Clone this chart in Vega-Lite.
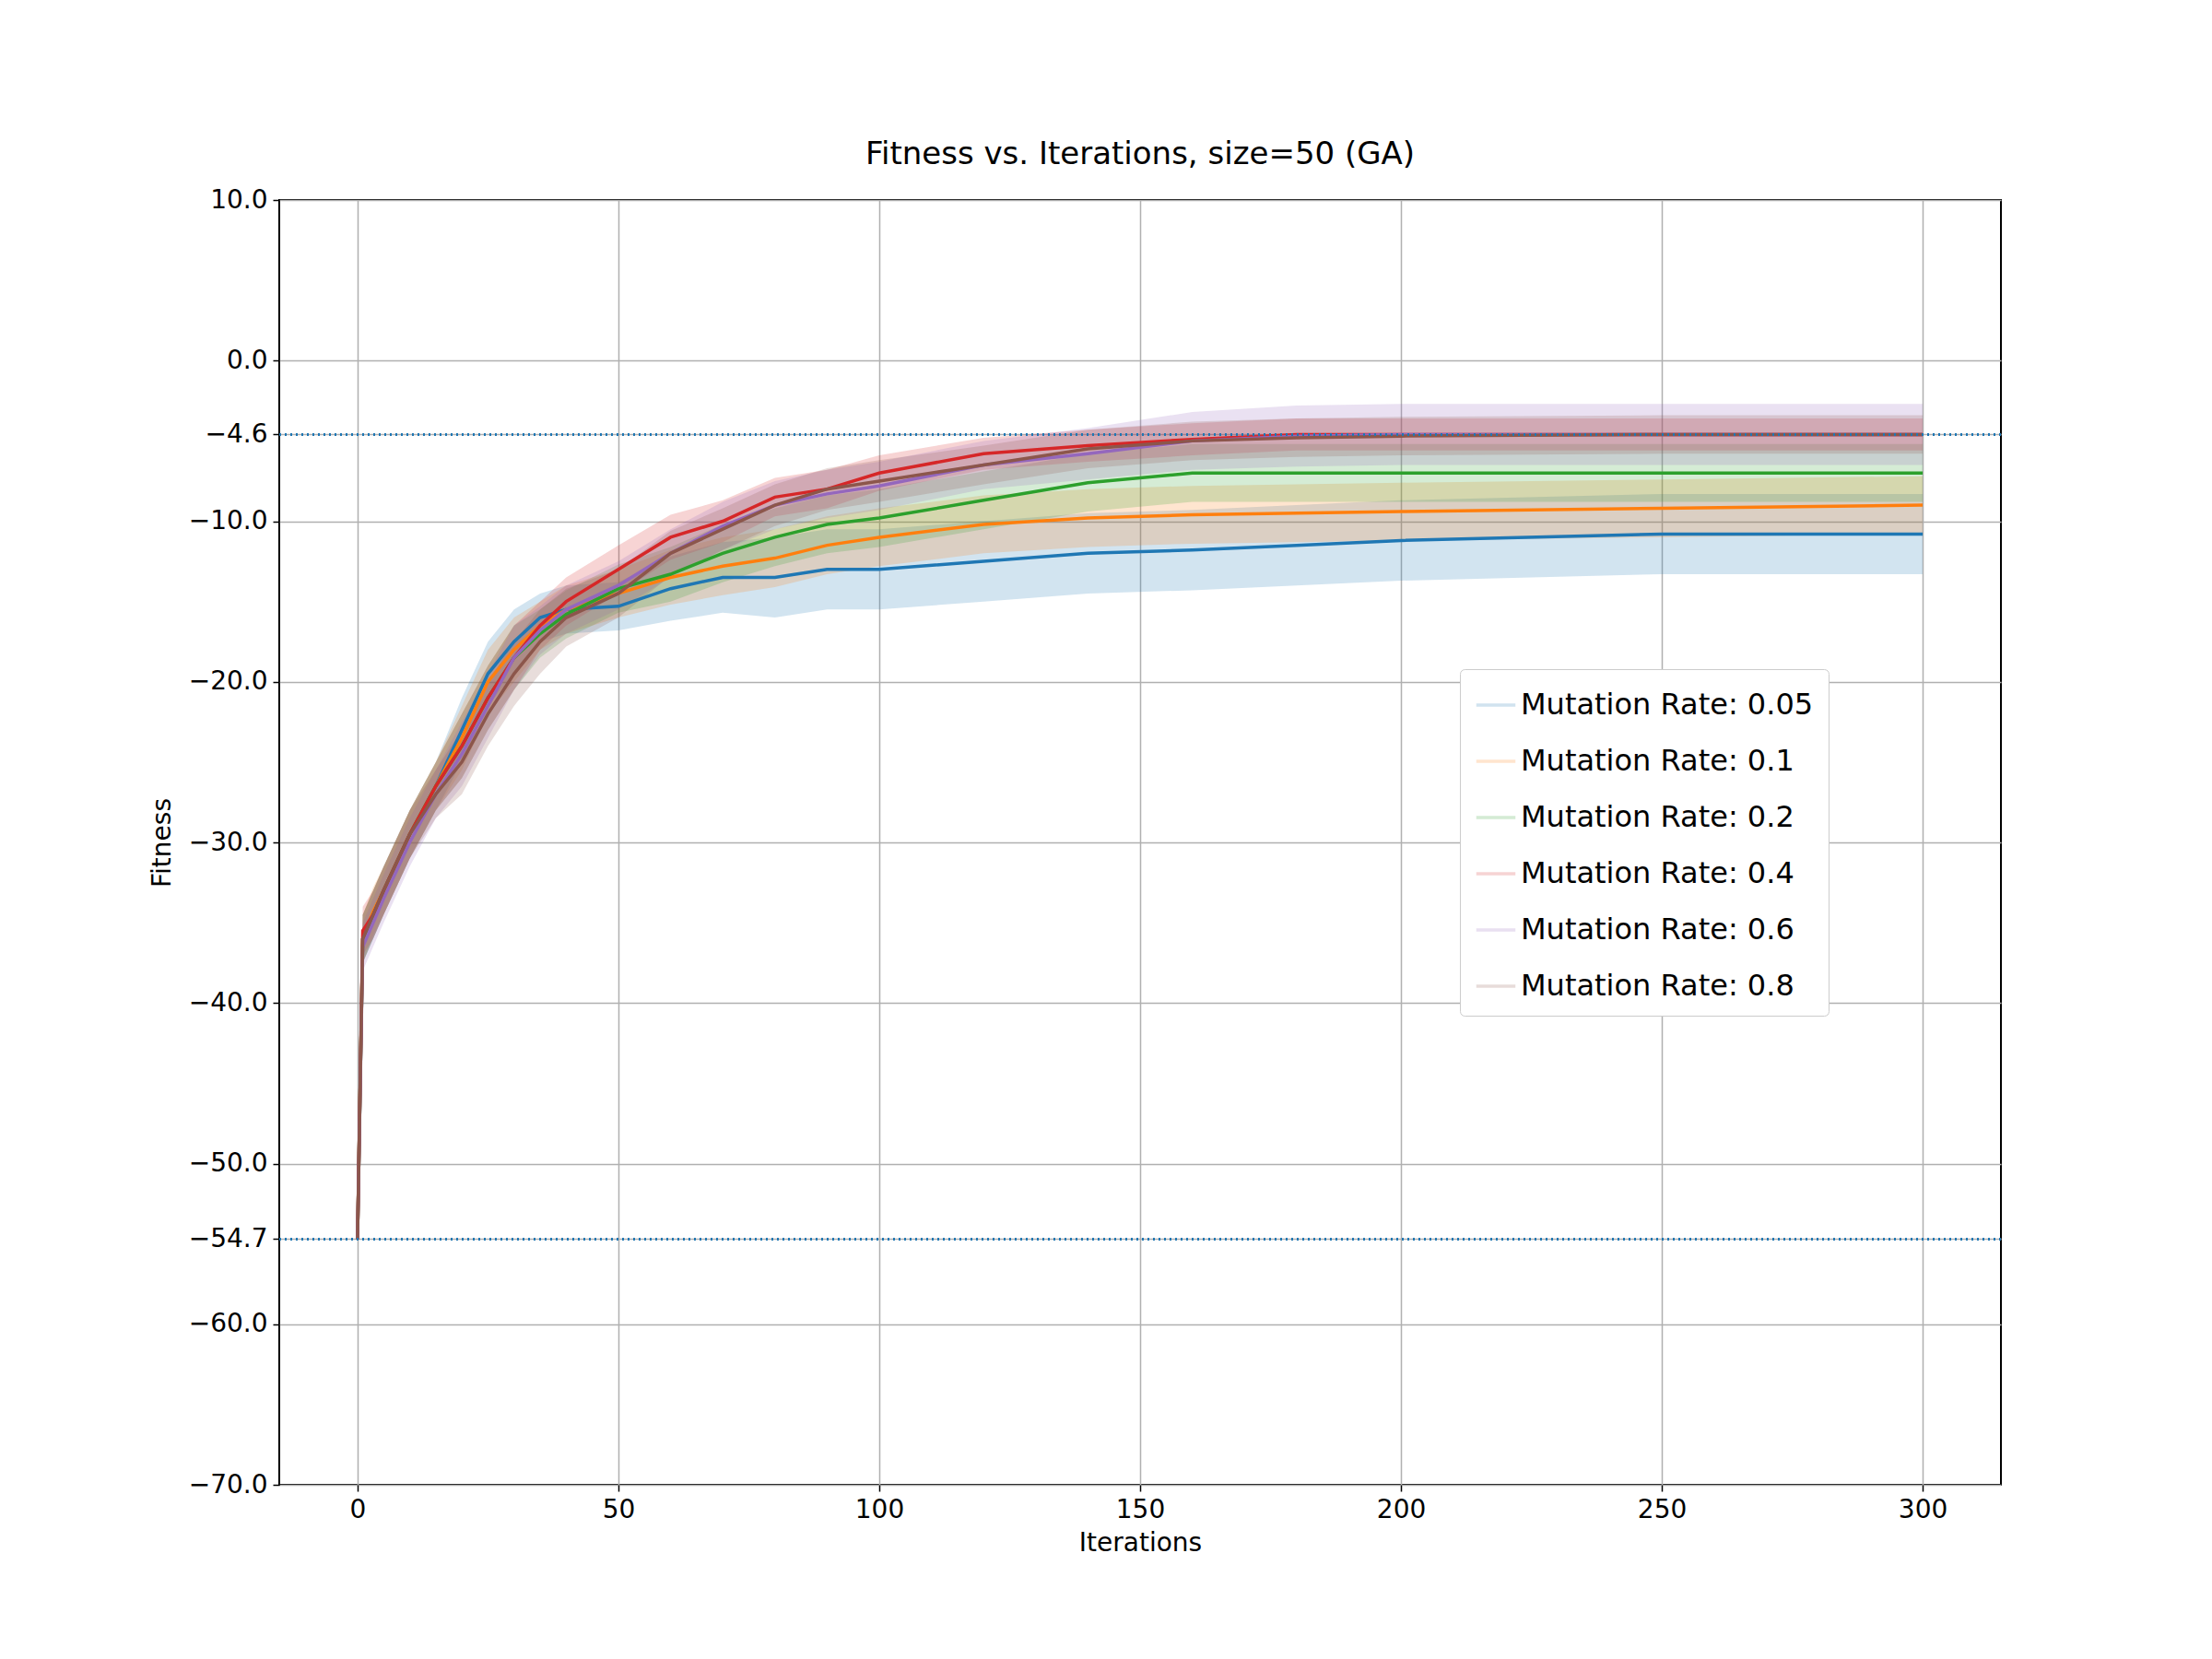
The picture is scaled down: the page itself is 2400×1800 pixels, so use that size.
{
  "$schema": "https://vega.github.io/schema/vega-lite/v6.json",
  "width": 1868,
  "height": 1394,
  "autosize": {"type": "none"},
  "padding": {"left": 303, "top": 217, "right": 229, "bottom": 189},
  "background": "white",
  "title": {"text": "Fitness vs. Iterations, size=50 (GA)", "font": "DejaVu Sans", "fontSize": 34, "fontWeight": "normal", "offset": 18},
  "config": {"font": "DejaVu Sans", "view": {"stroke": "black", "strokeWidth": 2}},
  "datasets": {
    "runs": [
      {"r":"Mutation Rate: 0.05","i":0,"m":-54.7,"lo":-54.7,"hi":-54.7},
      {"r":"Mutation Rate: 0.05","i":1,"m":-36,"lo":-37.5,"hi":-34.5},
      {"r":"Mutation Rate: 0.05","i":3,"m":-34.5,"lo":-36,"hi":-33},
      {"r":"Mutation Rate: 0.05","i":5,"m":-33,"lo":-34.5,"hi":-31.5},
      {"r":"Mutation Rate: 0.05","i":10,"m":-29.5,"lo":-31,"hi":-28},
      {"r":"Mutation Rate: 0.05","i":15,"m":-26.5,"lo":-28,"hi":-25},
      {"r":"Mutation Rate: 0.05","i":20,"m":-23,"lo":-25,"hi":-21},
      {"r":"Mutation Rate: 0.05","i":25,"m":-19.5,"lo":-21.5,"hi":-17.5},
      {"r":"Mutation Rate: 0.05","i":30,"m":-17.5,"lo":-19.5,"hi":-15.5},
      {"r":"Mutation Rate: 0.05","i":35,"m":-16,"lo":-17.5,"hi":-14.5},
      {"r":"Mutation Rate: 0.05","i":40,"m":-15.5,"lo":-17,"hi":-14},
      {"r":"Mutation Rate: 0.05","i":50,"m":-15.3,"lo":-16.8,"hi":-13.8},
      {"r":"Mutation Rate: 0.05","i":60,"m":-14.2,"lo":-16.2,"hi":-12.2},
      {"r":"Mutation Rate: 0.05","i":70,"m":-13.5,"lo":-15.7,"hi":-11.3},
      {"r":"Mutation Rate: 0.05","i":80,"m":-13.5,"lo":-16,"hi":-11},
      {"r":"Mutation Rate: 0.05","i":90,"m":-13,"lo":-15.5,"hi":-10.5},
      {"r":"Mutation Rate: 0.05","i":100,"m":-13,"lo":-15.5,"hi":-10.5},
      {"r":"Mutation Rate: 0.05","i":120,"m":-12.5,"lo":-15,"hi":-10},
      {"r":"Mutation Rate: 0.05","i":140,"m":-12,"lo":-14.5,"hi":-9.5},
      {"r":"Mutation Rate: 0.05","i":160,"m":-11.8,"lo":-14.3,"hi":-9.3},
      {"r":"Mutation Rate: 0.05","i":180,"m":-11.5,"lo":-14,"hi":-9},
      {"r":"Mutation Rate: 0.05","i":200,"m":-11.2,"lo":-13.7,"hi":-8.7},
      {"r":"Mutation Rate: 0.05","i":250,"m":-10.8,"lo":-13.3,"hi":-8.3},
      {"r":"Mutation Rate: 0.05","i":300,"m":-10.8,"lo":-13.3,"hi":-8.3},

      {"r":"Mutation Rate: 0.1","i":0,"m":-54.7,"lo":-54.7,"hi":-54.7},
      {"r":"Mutation Rate: 0.1","i":1,"m":-36,"lo":-37.5,"hi":-34.5},
      {"r":"Mutation Rate: 0.1","i":3,"m":-34.3,"lo":-35.8,"hi":-32.8},
      {"r":"Mutation Rate: 0.1","i":5,"m":-33,"lo":-34.5,"hi":-31.5},
      {"r":"Mutation Rate: 0.1","i":10,"m":-29.5,"lo":-31,"hi":-28},
      {"r":"Mutation Rate: 0.1","i":15,"m":-26.5,"lo":-28,"hi":-25},
      {"r":"Mutation Rate: 0.1","i":20,"m":-23.5,"lo":-25.5,"hi":-21.5},
      {"r":"Mutation Rate: 0.1","i":25,"m":-20,"lo":-22,"hi":-18},
      {"r":"Mutation Rate: 0.1","i":30,"m":-18,"lo":-20,"hi":-16},
      {"r":"Mutation Rate: 0.1","i":35,"m":-16.5,"lo":-18,"hi":-15},
      {"r":"Mutation Rate: 0.1","i":40,"m":-15.5,"lo":-17,"hi":-14},
      {"r":"Mutation Rate: 0.1","i":50,"m":-14.5,"lo":-16,"hi":-13},
      {"r":"Mutation Rate: 0.1","i":60,"m":-13.5,"lo":-15.2,"hi":-11.8},
      {"r":"Mutation Rate: 0.1","i":70,"m":-12.8,"lo":-14.6,"hi":-11},
      {"r":"Mutation Rate: 0.1","i":80,"m":-12.3,"lo":-14.1,"hi":-10.5},
      {"r":"Mutation Rate: 0.1","i":90,"m":-11.5,"lo":-13.3,"hi":-9.7},
      {"r":"Mutation Rate: 0.1","i":100,"m":-11,"lo":-12.8,"hi":-9.2},
      {"r":"Mutation Rate: 0.1","i":120,"m":-10.2,"lo":-12,"hi":-8.4},
      {"r":"Mutation Rate: 0.1","i":140,"m":-9.8,"lo":-11.6,"hi":-8},
      {"r":"Mutation Rate: 0.1","i":160,"m":-9.6,"lo":-11.4,"hi":-7.8},
      {"r":"Mutation Rate: 0.1","i":180,"m":-9.5,"lo":-11.3,"hi":-7.7},
      {"r":"Mutation Rate: 0.1","i":200,"m":-9.4,"lo":-11.2,"hi":-7.6},
      {"r":"Mutation Rate: 0.1","i":250,"m":-9.2,"lo":-11,"hi":-7.4},
      {"r":"Mutation Rate: 0.1","i":300,"m":-9,"lo":-10.8,"hi":-7.2},

      {"r":"Mutation Rate: 0.2","i":0,"m":-54.7,"lo":-54.7,"hi":-54.7},
      {"r":"Mutation Rate: 0.2","i":1,"m":-36,"lo":-37.5,"hi":-34.5},
      {"r":"Mutation Rate: 0.2","i":3,"m":-34.5,"lo":-36,"hi":-33},
      {"r":"Mutation Rate: 0.2","i":5,"m":-33,"lo":-34.5,"hi":-31.5},
      {"r":"Mutation Rate: 0.2","i":10,"m":-29.5,"lo":-31,"hi":-28},
      {"r":"Mutation Rate: 0.2","i":15,"m":-26.5,"lo":-28,"hi":-25},
      {"r":"Mutation Rate: 0.2","i":20,"m":-24,"lo":-26,"hi":-22},
      {"r":"Mutation Rate: 0.2","i":25,"m":-21,"lo":-23,"hi":-19},
      {"r":"Mutation Rate: 0.2","i":30,"m":-18.5,"lo":-20.5,"hi":-16.5},
      {"r":"Mutation Rate: 0.2","i":35,"m":-17,"lo":-18.5,"hi":-15.5},
      {"r":"Mutation Rate: 0.2","i":40,"m":-15.8,"lo":-17.3,"hi":-14.3},
      {"r":"Mutation Rate: 0.2","i":50,"m":-14.2,"lo":-15.7,"hi":-12.7},
      {"r":"Mutation Rate: 0.2","i":60,"m":-13.3,"lo":-15,"hi":-11.6},
      {"r":"Mutation Rate: 0.2","i":70,"m":-12,"lo":-13.8,"hi":-10.2},
      {"r":"Mutation Rate: 0.2","i":80,"m":-11,"lo":-12.8,"hi":-9.2},
      {"r":"Mutation Rate: 0.2","i":90,"m":-10.2,"lo":-12,"hi":-8.4},
      {"r":"Mutation Rate: 0.2","i":100,"m":-9.8,"lo":-11.6,"hi":-8},
      {"r":"Mutation Rate: 0.2","i":120,"m":-8.7,"lo":-10.5,"hi":-6.9},
      {"r":"Mutation Rate: 0.2","i":140,"m":-7.6,"lo":-9.4,"hi":-5.8},
      {"r":"Mutation Rate: 0.2","i":160,"m":-7,"lo":-8.8,"hi":-5.2},
      {"r":"Mutation Rate: 0.2","i":180,"m":-7,"lo":-8.8,"hi":-5.2},
      {"r":"Mutation Rate: 0.2","i":200,"m":-7,"lo":-8.8,"hi":-5.2},
      {"r":"Mutation Rate: 0.2","i":250,"m":-7,"lo":-8.8,"hi":-5.2},
      {"r":"Mutation Rate: 0.2","i":300,"m":-7,"lo":-8.8,"hi":-5.2},

      {"r":"Mutation Rate: 0.4","i":0,"m":-54.7,"lo":-54.7,"hi":-54.7},
      {"r":"Mutation Rate: 0.4","i":1,"m":-35.5,"lo":-37,"hi":-34},
      {"r":"Mutation Rate: 0.4","i":3,"m":-34.5,"lo":-36,"hi":-33},
      {"r":"Mutation Rate: 0.4","i":5,"m":-33,"lo":-34.5,"hi":-31.5},
      {"r":"Mutation Rate: 0.4","i":10,"m":-29.5,"lo":-31,"hi":-28},
      {"r":"Mutation Rate: 0.4","i":15,"m":-26.5,"lo":-28,"hi":-25},
      {"r":"Mutation Rate: 0.4","i":20,"m":-24,"lo":-26,"hi":-22},
      {"r":"Mutation Rate: 0.4","i":25,"m":-21,"lo":-23,"hi":-19},
      {"r":"Mutation Rate: 0.4","i":30,"m":-18.5,"lo":-20.5,"hi":-16.5},
      {"r":"Mutation Rate: 0.4","i":35,"m":-16.5,"lo":-18,"hi":-15},
      {"r":"Mutation Rate: 0.4","i":40,"m":-15,"lo":-16.5,"hi":-13.5},
      {"r":"Mutation Rate: 0.4","i":50,"m":-13,"lo":-14.5,"hi":-11.5},
      {"r":"Mutation Rate: 0.4","i":60,"m":-11,"lo":-12.4,"hi":-9.6},
      {"r":"Mutation Rate: 0.4","i":70,"m":-10,"lo":-11.3,"hi":-8.7},
      {"r":"Mutation Rate: 0.4","i":80,"m":-8.5,"lo":-9.7,"hi":-7.3},
      {"r":"Mutation Rate: 0.4","i":90,"m":-8,"lo":-9.2,"hi":-6.8},
      {"r":"Mutation Rate: 0.4","i":100,"m":-7,"lo":-8.1,"hi":-5.9},
      {"r":"Mutation Rate: 0.4","i":120,"m":-5.8,"lo":-6.8,"hi":-4.8},
      {"r":"Mutation Rate: 0.4","i":140,"m":-5.3,"lo":-6.3,"hi":-4.3},
      {"r":"Mutation Rate: 0.4","i":160,"m":-4.9,"lo":-5.9,"hi":-3.9},
      {"r":"Mutation Rate: 0.4","i":180,"m":-4.6,"lo":-5.6,"hi":-3.6},
      {"r":"Mutation Rate: 0.4","i":200,"m":-4.6,"lo":-5.6,"hi":-3.6},
      {"r":"Mutation Rate: 0.4","i":250,"m":-4.6,"lo":-5.6,"hi":-3.6},
      {"r":"Mutation Rate: 0.4","i":300,"m":-4.6,"lo":-5.6,"hi":-3.6},

      {"r":"Mutation Rate: 0.6","i":0,"m":-54.7,"lo":-54.7,"hi":-54.7},
      {"r":"Mutation Rate: 0.6","i":1,"m":-36.5,"lo":-38,"hi":-35},
      {"r":"Mutation Rate: 0.6","i":3,"m":-35,"lo":-36.5,"hi":-33.5},
      {"r":"Mutation Rate: 0.6","i":5,"m":-33.5,"lo":-35,"hi":-32},
      {"r":"Mutation Rate: 0.6","i":10,"m":-30,"lo":-31.5,"hi":-28.5},
      {"r":"Mutation Rate: 0.6","i":15,"m":-27,"lo":-28.5,"hi":-25.5},
      {"r":"Mutation Rate: 0.6","i":20,"m":-24.5,"lo":-26.5,"hi":-22.5},
      {"r":"Mutation Rate: 0.6","i":25,"m":-21.5,"lo":-23.5,"hi":-19.5},
      {"r":"Mutation Rate: 0.6","i":30,"m":-18.5,"lo":-20.5,"hi":-16.5},
      {"r":"Mutation Rate: 0.6","i":35,"m":-16.8,"lo":-18.3,"hi":-15.3},
      {"r":"Mutation Rate: 0.6","i":40,"m":-15.5,"lo":-17,"hi":-14},
      {"r":"Mutation Rate: 0.6","i":50,"m":-14,"lo":-15.5,"hi":-12.5},
      {"r":"Mutation Rate: 0.6","i":60,"m":-12,"lo":-13.5,"hi":-10.5},
      {"r":"Mutation Rate: 0.6","i":70,"m":-10.3,"lo":-11.8,"hi":-8.8},
      {"r":"Mutation Rate: 0.6","i":80,"m":-9,"lo":-10.5,"hi":-7.5},
      {"r":"Mutation Rate: 0.6","i":90,"m":-8.3,"lo":-9.8,"hi":-6.8},
      {"r":"Mutation Rate: 0.6","i":100,"m":-7.8,"lo":-9.3,"hi":-6.3},
      {"r":"Mutation Rate: 0.6","i":120,"m":-6.5,"lo":-8,"hi":-5},
      {"r":"Mutation Rate: 0.6","i":140,"m":-5.8,"lo":-7.4,"hi":-4.2},
      {"r":"Mutation Rate: 0.6","i":160,"m":-5,"lo":-6.8,"hi":-3.2},
      {"r":"Mutation Rate: 0.6","i":180,"m":-4.7,"lo":-6.6,"hi":-2.8},
      {"r":"Mutation Rate: 0.6","i":200,"m":-4.6,"lo":-6.5,"hi":-2.7},
      {"r":"Mutation Rate: 0.6","i":250,"m":-4.6,"lo":-6.5,"hi":-2.7},
      {"r":"Mutation Rate: 0.6","i":300,"m":-4.6,"lo":-6.5,"hi":-2.7},

      {"r":"Mutation Rate: 0.8","i":0,"m":-54.7,"lo":-54.7,"hi":-54.7},
      {"r":"Mutation Rate: 0.8","i":1,"m":-36,"lo":-37.5,"hi":-34.5},
      {"r":"Mutation Rate: 0.8","i":3,"m":-34.5,"lo":-36,"hi":-33},
      {"r":"Mutation Rate: 0.8","i":5,"m":-33,"lo":-34.5,"hi":-31.5},
      {"r":"Mutation Rate: 0.8","i":10,"m":-29.5,"lo":-31,"hi":-28},
      {"r":"Mutation Rate: 0.8","i":15,"m":-27,"lo":-28.5,"hi":-25.5},
      {"r":"Mutation Rate: 0.8","i":20,"m":-25,"lo":-27,"hi":-23},
      {"r":"Mutation Rate: 0.8","i":25,"m":-22,"lo":-24,"hi":-20},
      {"r":"Mutation Rate: 0.8","i":30,"m":-19.5,"lo":-21.5,"hi":-17.5},
      {"r":"Mutation Rate: 0.8","i":35,"m":-17.5,"lo":-19.5,"hi":-15.5},
      {"r":"Mutation Rate: 0.8","i":40,"m":-16,"lo":-17.8,"hi":-14.2},
      {"r":"Mutation Rate: 0.8","i":50,"m":-14.5,"lo":-16,"hi":-13},
      {"r":"Mutation Rate: 0.8","i":60,"m":-12,"lo":-13.4,"hi":-10.6},
      {"r":"Mutation Rate: 0.8","i":70,"m":-10.5,"lo":-11.8,"hi":-9.2},
      {"r":"Mutation Rate: 0.8","i":80,"m":-9,"lo":-10.3,"hi":-7.7},
      {"r":"Mutation Rate: 0.8","i":90,"m":-8,"lo":-9.3,"hi":-6.7},
      {"r":"Mutation Rate: 0.8","i":100,"m":-7.5,"lo":-8.8,"hi":-6.2},
      {"r":"Mutation Rate: 0.8","i":120,"m":-6.5,"lo":-7.7,"hi":-5.3},
      {"r":"Mutation Rate: 0.8","i":140,"m":-5.5,"lo":-6.7,"hi":-4.3},
      {"r":"Mutation Rate: 0.8","i":160,"m":-5,"lo":-6.2,"hi":-3.8},
      {"r":"Mutation Rate: 0.8","i":180,"m":-4.8,"lo":-6,"hi":-3.6},
      {"r":"Mutation Rate: 0.8","i":200,"m":-4.7,"lo":-5.9,"hi":-3.5},
      {"r":"Mutation Rate: 0.8","i":250,"m":-4.6,"lo":-5.8,"hi":-3.4},
      {"r":"Mutation Rate: 0.8","i":300,"m":-4.6,"lo":-5.8,"hi":-3.4}
    ],
    "refs": [{"v": -4.6}, {"v": -54.7}]
  },
  "layer": [
    {
      "data": {"name": "runs"},
      "mark": {"type": "area", "opacity": 0.2, "clip": true},
      "encoding": {
        "x": {"field": "i", "type": "quantitative"},
        "y": {"field": "lo", "type": "quantitative"},
        "y2": {"field": "hi"},
        "color": {"field": "r", "type": "nominal"}
      }
    },
    {
      "data": {"name": "runs"},
      "mark": {"type": "line", "strokeWidth": 3.5, "clip": true},
      "encoding": {
        "x": {
          "field": "i", "type": "quantitative",
          "scale": {"domain": [-15, 315], "nice": false, "zero": false},
          "axis": {"title": "Iterations", "values": [0, 50, 100, 150, 200, 250, 300], "grid": true, "gridColor": "#b0b0b0", "gridWidth": 1.5, "domain": false, "tickColor": "black", "tickSize": 7, "tickWidth": 1.5, "labelFontSize": 28, "labelColor": "black", "titleFontSize": 28, "titleFontWeight": "normal", "titleColor": "black", "labelPadding": 6, "titlePadding": 8}
        },
        "y": {
          "field": "m", "type": "quantitative",
          "scale": {"domain": [-70, 10], "nice": false, "zero": false},
          "axis": {"title": "Fitness", "values": [10, 0, -4.6, -10, -20, -30, -40, -50, -54.7, -60, -70], "format": ".1f", "grid": true, "gridColor": "#b0b0b0", "gridWidth": 1.5, "domain": false, "tickColor": "black", "tickSize": 7, "tickWidth": 1.5, "labelFontSize": 28, "labelColor": "black", "titleFontSize": 28, "titleFontWeight": "normal", "titleColor": "black", "labelPadding": 6, "titlePadding": 14, "labelExpr": "replace(datum.label, '-', '\u2212')"}
        },
        "color": {
          "field": "r", "type": "nominal", "title": null,
          "scale": {"domain": ["Mutation Rate: 0.05", "Mutation Rate: 0.1", "Mutation Rate: 0.2", "Mutation Rate: 0.4", "Mutation Rate: 0.6", "Mutation Rate: 0.8"], "range": ["#1f77b4", "#ff7f0e", "#2ca02c", "#d62728", "#9467bd", "#8c564b"]},
          "legend": {"orient": "none", "legendX": 1281, "legendY": 509, "symbolType": "stroke", "symbolSize": 1800, "symbolStrokeWidth": 3.5, "symbolOpacity": 1, "labelFontSize": 32, "labelColor": "black", "rowPadding": 22, "padding": 16, "fillColor": "white", "strokeColor": "#cccccc", "cornerRadius": 5, "labelLimit": 600}
        }
      }
    },
    {
      "data": {"name": "refs"},
      "mark": {"type": "rule", "color": "#1f77b4", "strokeWidth": 3, "strokeDash": [2, 4]},
      "encoding": {"y": {"field": "v", "type": "quantitative"}}
    }
  ]
}
